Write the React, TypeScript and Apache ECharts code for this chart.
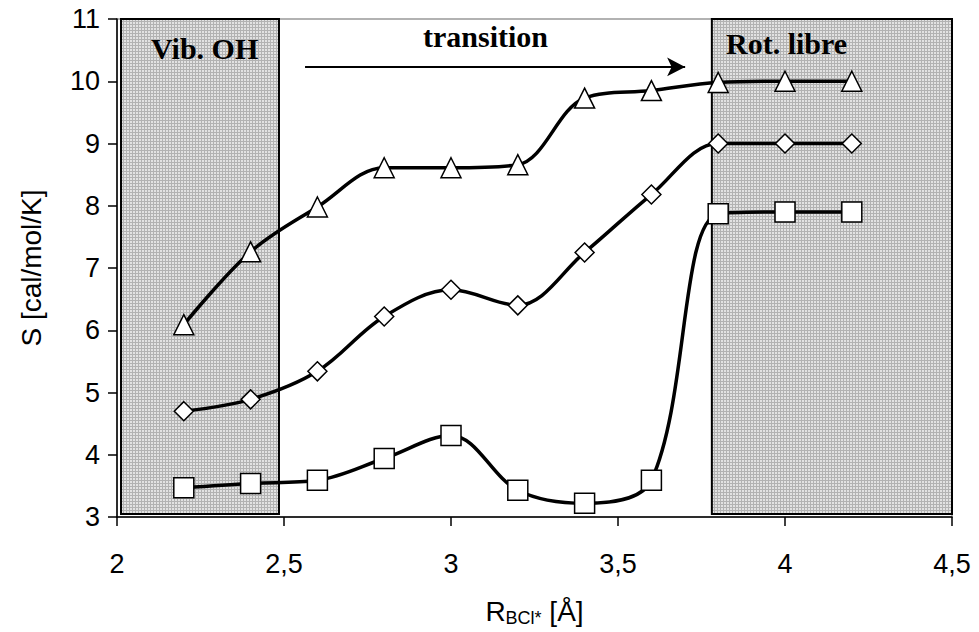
import React, { useEffect, useRef } from "react";
import * as echarts from "echarts";

const xValues = [2.2, 2.4, 2.6, 2.8, 3.0, 3.2, 3.4, 3.6, 3.8, 4.0, 4.2];
const triangleValues = [6.09, 7.26, 7.98, 8.61, 8.61, 8.66, 9.73, 9.85, 9.98, 10.0, 10.0];
const diamondValues = [4.7, 4.89, 5.34, 6.22, 6.65, 6.4, 7.25, 8.18, 9.0, 9.0, 9.0];
const squareValues = [3.47, 3.54, 3.59, 3.94, 4.31, 3.43, 3.22, 3.59, 7.87, 7.9, 7.9];

const regionVib = [2.012, 2.485];
const regionRot = [3.781, 4.5];
const arrowFrom = [2.563, 10.23];
const arrowTo = [3.701, 10.23];

const annotations = [
  { text: "Vib. OH", x: 151, y: 48 },
  { text: "transition", x: 423, y: 36 },
  { text: "Rot. libre", x: 726, y: 43 },
];

const sansFont = '"Liberation Sans", Arial, sans-serif';
const serifFont = '"Liberation Serif", "Times New Roman", serif';

export default function App() {
  const ref = useRef<HTMLDivElement>(null);
  useEffect(() => {
    if (!ref.current) return;
    const chart = echarts.init(ref.current, undefined, { renderer: "svg" });

    const c = document.createElement("canvas");
    c.width = 3;
    c.height = 3;
    const ctx = c.getContext("2d")!;
    ctx.fillStyle = "#e2e2e2";
    ctx.fillRect(0, 0, 3, 3);
    ctx.fillStyle = "#b2b2b2";
    ctx.fillRect(0, 0, 3, 1);
    ctx.fillRect(0, 0, 1, 3);

    const mk = (vals: number[], symbol: string, size: number) => ({
      type: "line",
      data: xValues.map((x, i) => [x, vals[i]]),
      smooth: 0.35,
      symbol,
      symbolSize: size,
      showSymbol: true,
      lineStyle: { color: "#000", width: 3.5 },
      itemStyle: { color: "#fff", borderColor: "#000", borderWidth: 1.5 },
      z: 3,
    });

    chart.setOption({
      animation: false,
      grid: {
        left: 117,
        right: 27,
        top: 19,
        bottom: 114,
        show: true,
        borderColor: "#999",
        borderWidth: 1.5,
      },
      xAxis: {
        type: "value",
        min: 2,
        max: 4.5,
        interval: 0.5,
        axisLine: { lineStyle: { color: "#000", width: 1.5 } },
        axisTick: { show: true, length: 9, lineStyle: { color: "#000", width: 1.5 } },
        axisLabel: {
          color: "#000",
          fontSize: 27,
          fontFamily: sansFont,
          margin: 33,
          formatter: (v: number) => String(v).replace(".", ","),
        },
        splitLine: { show: false },
        name: "{r|R}{s|BCl*}{r| [Å]}",
        nameLocation: "middle",
        nameGap: 78,
        nameTextStyle: {
          rich: {
            r: { fontSize: 28, fontFamily: sansFont, color: "#000" },
            s: { fontSize: 18, fontFamily: sansFont, color: "#000", padding: [14, 0, 0, 0] },
          },
        },
      },
      yAxis: {
        type: "value",
        min: 3,
        max: 11,
        interval: 1,
        axisLine: { show: true, lineStyle: { color: "#000", width: 1.5 } },
        axisTick: { show: true, length: 9, lineStyle: { color: "#000", width: 1.5 } },
        axisLabel: { color: "#000", fontSize: 27, fontFamily: sansFont, margin: 17 },
        splitLine: { show: false },
        name: "S [cal/mol/K]",
        nameLocation: "middle",
        nameGap: 72,
        nameTextStyle: { fontSize: 28, fontFamily: sansFont, color: "#000" },
      },
      series: [
        {
          type: "line",
          data: [],
          z: 1,
          silent: true,
          markArea: {
            silent: true,
            itemStyle: {
              color: { image: c, repeat: "repeat" },
              borderColor: "#000",
              borderWidth: 2,
            },
            data: [
              [{ xAxis: regionVib[0], yAxis: 11 }, { xAxis: regionVib[1], yAxis: 3.05 }],
              [{ xAxis: regionRot[0], yAxis: 11 }, { xAxis: regionRot[1], yAxis: 3.05 }],
            ],
          },
          markLine: {
            silent: true,
            symbol: ["none", "arrow"],
            symbolSize: [14, 18],
            label: { show: false },
            lineStyle: { color: "#000", width: 2, type: "solid" },
            data: [[{ coord: arrowFrom }, { coord: arrowTo }]],
          },
        },
        mk(triangleValues, "triangle", 20),
        mk(diamondValues, "diamond", 19),
        mk(squareValues, "rect", 20),
      ],
      graphic: annotations.map((a) => ({
        type: "text",
        x: a.x,
        y: a.y,
        z: 10,
        style: {
          text: a.text,
          font: `bold 30px ${serifFont}`,
          fill: "#000",
          textAlign: "left",
          textVerticalAlign: "middle",
        },
      })),
    });
    return () => chart.dispose();
  }, []);
  return <div ref={ref} style={{ width: 979, height: 632, position: "absolute", left: 0, top: 0 }} />;
}
